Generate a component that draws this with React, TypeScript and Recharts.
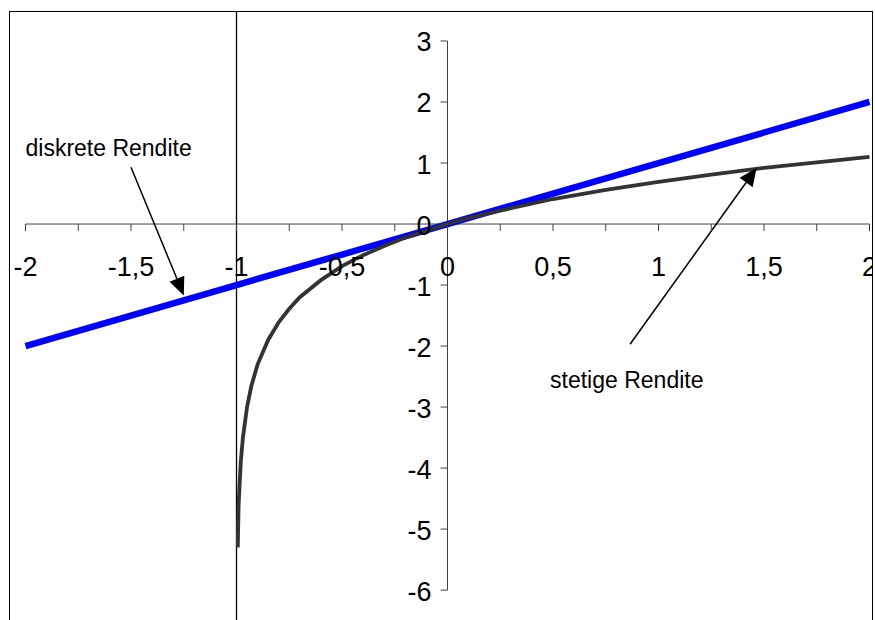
import { Line, LineChart, ReferenceDot, ReferenceLine, XAxis, YAxis } from "recharts"

// diskrete Rendite (blue straight line)
const diskreteX = [-2, -1.5, -1, -0.5, 0, 0.5, 1, 1.5, 2]
const diskreteY = [-2, -1.5, -1, -0.5, 0, 0.5, 1, 1.5, 2]

// stetige Rendite (dark curve)
const stetigeX = [
  -0.994, -0.99, -0.98, -0.97, -0.95, -0.93, -0.9, -0.85, -0.8, -0.75, -0.7, -0.6, -0.5, -0.4, -0.3,
  -0.2, -0.1, 0, 0.1, 0.25, 0.5, 0.75, 1, 1.25, 1.5, 1.75, 2,
]
const stetigeY = [
  -5.3, -4.6, -3.91, -3.51, -3.0, -2.66, -2.3, -1.9, -1.61, -1.39, -1.2, -0.92, -0.69, -0.51, -0.36,
  -0.22, -0.11, 0, 0.1, 0.22, 0.41, 0.56, 0.69, 0.81, 0.92, 1.01, 1.1,
]

const xTicks = [-2, -1.75, -1.5, -1.25, -1, -0.75, -0.5, -0.25, 0, 0.25, 0.5, 0.75, 1, 1.25, 1.5, 1.75, 2]
const xLabels = [-2, -1.5, -1, -0.5, 0, 0.5, 1, 1.5, 2]
const yTicks = [-6, -5, -4, -3, -2, -1, 0, 1, 2, 3]

const notes = [
  { text: "diskrete Rendite", x: -2, y: 1.12 },
  { text: "stetige Rendite", x: 0.486, y: -2.69 },
]
const arrows = [
  { from: { x: -1.5, y: 0.93 }, to: { x: -1.25, y: -1.17 } },
  { from: { x: 0.865, y: -1.97 }, to: { x: 1.465, y: 0.92 } },
]

const diskrete = diskreteX.map((x, i) => ({ x, y: diskreteY[i] }))
const stetige = stetigeX.map((x, i) => ({ x, y: stetigeY[i] }))

const font = "'Liberation Sans', Arial, sans-serif"
const axisColor = "#404040"
const fmt = (v: number) => String(v).replace(".", ",")

function Arrow(p: any) {
  const { x1, y1, x2, y2 } = p
  const dx = x2 - x1
  const dy = y2 - y1
  const len = Math.sqrt(dx * dx + dy * dy)
  const ux = dx / len
  const uy = dy / len
  const bx = x2 - ux * 18
  const by = y2 - uy * 18
  const pts = `${x2},${y2} ${bx - uy * 8},${by + ux * 8} ${bx + uy * 8},${by - ux * 8}`
  return (
    <g>
      <line x1={x1} y1={y1} x2={bx} y2={by} stroke="#000" strokeWidth={1.5} />
      <polygon points={pts} fill="#000" />
    </g>
  )
}

export default function App() {
  return (
    <div
      style={{
        position: "absolute",
        left: 9,
        top: 11,
        width: 864,
        height: 609,
        boxSizing: "border-box",
        borderTop: "1px solid #000",
        borderLeft: "1px solid #000",
        borderRight: "1px solid #000",
        background: "#fff",
      }}
    >
      <LineChart width={862} height={608} margin={{ top: 0, right: 0, bottom: 0, left: 0 }}>
        <XAxis type="number" dataKey="x" domain={[-2.0735, 2.0118]} allowDataOverflow hide />
        <YAxis type="number" dataKey="y" domain={[-6.49, 3.475]} allowDataOverflow hide />

        <ReferenceLine x={-1} stroke="#000" strokeWidth={1.3} />
        <ReferenceLine segment={[{ x: -2, y: 0 }, { x: 2, y: 0 }]} stroke={axisColor} strokeWidth={1} />
        <ReferenceLine segment={[{ x: 0, y: -6 }, { x: 0, y: 3 }]} stroke={axisColor} strokeWidth={1} />

        {xTicks.map((t) => (
          <ReferenceDot
            key={"xt" + t}
            x={t}
            y={0}
            shape={(p: any) => (
              <line x1={p.cx} y1={p.cy} x2={p.cx} y2={p.cy + 7} stroke={axisColor} strokeWidth={1} />
            )}
          />
        ))}
        {xLabels.map((t) => (
          <ReferenceDot
            key={"xl" + t}
            x={t}
            y={0}
            shape={(p: any) => (
              <text x={p.cx} y={p.cy + 52} textAnchor="middle" fontFamily={font} fontSize={27} fill="#000">
                {fmt(t)}
              </text>
            )}
          />
        ))}
        {yTicks.map((t) => (
          <ReferenceDot
            key={"yt" + t}
            x={0}
            y={t}
            shape={(p: any) => (
              <g>
                <line x1={p.cx - 7} y1={p.cy} x2={p.cx} y2={p.cy} stroke={axisColor} strokeWidth={1} />
                <text x={p.cx - 16} y={p.cy + 10.5} textAnchor="end" fontFamily={font} fontSize={27} fill="#000">
                  {fmt(t)}
                </text>
              </g>
            )}
          />
        ))}

        <Line
          data={diskrete}
          dataKey="y"
          type="linear"
          stroke="#0000ff"
          strokeWidth={6.5}
          dot={false}
          isAnimationActive={false}
        />
        <Line
          data={stetige}
          dataKey="y"
          type="linear"
          stroke="#333333"
          strokeWidth={3.8}
          dot={false}
          isAnimationActive={false}
        />

        {arrows.map((a, i) => (
          <ReferenceLine key={"ar" + i} segment={[a.from, a.to]} shape={Arrow} />
        ))}
        {notes.map((n) => (
          <ReferenceDot
            key={n.text}
            x={n.x}
            y={n.y}
            shape={(p: any) => (
              <text x={p.cx} y={p.cy} fontFamily={font} fontSize={23} fill="#000">
                {n.text}
              </text>
            )}
          />
        ))}
      </LineChart>
    </div>
  )
}
